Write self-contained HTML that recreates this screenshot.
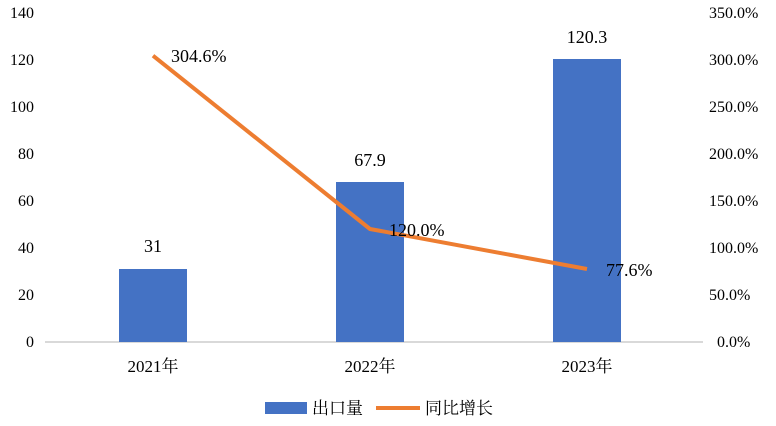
<!DOCTYPE html>
<html><head><meta charset="utf-8"><style>
html,body{margin:0;padding:0;background:#fff;width:776px;height:426px;overflow:hidden}
text{font-family:"Liberation Serif","Noto Serif CJK SC",serif;fill:#000}
</style></head><body>
<svg width="776" height="426" xmlns="http://www.w3.org/2000/svg">
<line x1="45" y1="342" x2="703" y2="342" stroke="#d9d9d9" stroke-width="2"/>
<g font-size="16" text-anchor="end">
<text x="34" y="347">0</text><text x="34" y="300">20</text><text x="34" y="253">40</text>
<text x="34" y="206">60</text><text x="34" y="159">80</text><text x="34" y="112">100</text>
<text x="34" y="65">120</text><text x="34" y="18">140</text>
</g>
<g font-size="16" text-anchor="start">
<text x="717" y="347">0.0%</text><text x="709" y="300">50.0%</text><text x="709" y="253">100.0%</text>
<text x="709" y="206">150.0%</text><text x="709" y="159">200.0%</text><text x="709" y="112">250.0%</text>
<text x="709" y="65">300.0%</text><text x="709" y="18">350.0%</text>
</g>
<rect x="119" y="269" width="68" height="73" fill="#4472c4"/>
<rect x="336" y="182" width="68" height="160" fill="#4472c4"/>
<rect x="553" y="59" width="68" height="283" fill="#4472c4"/>
<g font-size="18" text-anchor="middle">
<text x="153" y="252">31</text><text x="370" y="166">67.9</text><text x="587" y="43">120.3</text>
</g>
<polyline points="153,55.7 370,229 587,269" fill="none" stroke="#ed7d31" stroke-width="4" stroke-linejoin="round"/>
<g font-size="18">
<text x="171" y="62">304.6%</text><text x="389" y="236">120.0%</text><text x="606" y="276">77.6%</text>
</g>
<g font-size="17" text-anchor="middle">
<text x="153" y="372">2021年</text><text x="370" y="372">2022年</text><text x="587" y="372">2023年</text>
</g>
<rect x="265" y="402" width="42" height="12" fill="#4472c4"/>
<text x="312" y="414" font-size="17">出口量</text>
<line x1="376" y1="408" x2="420" y2="408" stroke="#ed7d31" stroke-width="4"/>
<text x="425" y="414" font-size="17">同比增长</text>
</svg>
</body></html>
